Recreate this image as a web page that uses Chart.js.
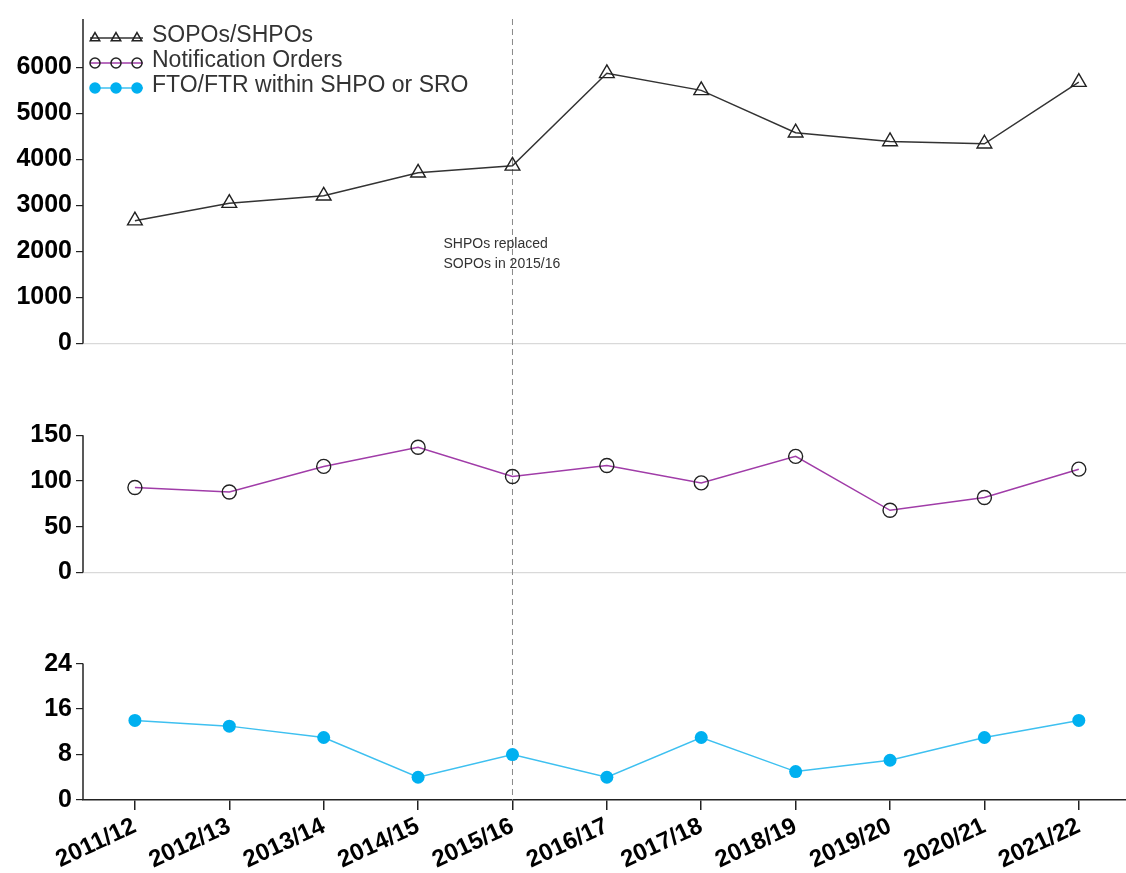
<!DOCTYPE html>
<html>
<head>
<meta charset="utf-8">
<script src="https://cdn.jsdelivr.net/npm/chart.js@4.4.1/dist/chart.umd.min.js"></script>
<style>
	html, body { margin: 0; background: #fff; }
	#wrap { width: 1126px; height: 873px; }
</style>
</head>
<body>
<div id="wrap"><canvas id="myChart"></canvas></div>
<script>
// financial years on the shared x axis
const years = ['2011/12', '2012/13', '2013/14', '2014/15', '2015/16', '2016/17', '2017/18', '2018/19', '2019/20', '2020/21', '2021/22'];

// one series per panel
const sopoShpo = [2670, 3050, 3210, 3710, 3860, 5870, 5500, 4580, 4390, 4340, 5680];
const notificationOrders = [93, 88, 116, 137, 105, 117, 98, 127, 68, 82, 113];
const ftoFtr = [14, 13, 11, 4, 8, 4, 11, 5, 7, 11, 14];

// labelled ticks in each panel
const topPanelTicks = [0, 1000, 2000, 3000, 4000, 5000, 6000];
const midPanelTicks = [0, 50, 100, 150];
const lowPanelTicks = [0, 8, 16, 24];

const changeYear = '2015/16';
const changeNote = ['SHPOs replaced', 'SOPOs in 2015/16'];

const tickFont = { family: '"Liberation Sans", Arial, sans-serif', size: 24, weight: 'bold' };

const toPoints = (values) => values.map((v, i) => ({ x: i, y: v }));

/**
 * builds one of the stacked y axes
 */
function panelAxis(min, max, tickList, weight, stackWeight, zeroLine) {
	return {
		type: 'linear',
		position: 'left',
		stack: 'panels',
		weight: weight,
		stackWeight: stackWeight,
		min: min,
		max: max,
		border: { display: false },
		grid: {
			color: (c) => (zeroLine && c.tick && c.tick.value === 0 ? '#d9d9d9' : 'rgba(0,0,0,0)'),
			tickColor: '#222',
			tickLength: 7,
			lineWidth: 1.2
		},
		ticks: {
			color: '#000',
			font: { ...tickFont, size: 25 },
			padding: 4,
			stepSize: tickList[1] - tickList[0],
			callback: (v) => String(v)
		},
		afterBuildTicks: (s) => {
			s.ticks = tickList.map((v) => ({ value: v }));
		},
		afterFit: (s) => {
			s.width = 83;
		},
		lineTop: tickList[tickList.length - 1]
	};
}

const panelPlugin = {
	id: 'panelDecor',
	beforeDatasetsDraw(chart) {
		const ctx = chart.ctx;
		const area = chart.chartArea;
		const xs = chart.scales.x;
		ctx.save();
		// axis segments per panel
		ctx.strokeStyle = '#222';
		ctx.lineWidth = 1.5;
		[['yTop', true], ['yMid', false], ['yLow', false]].forEach(([id, toTop]) => {
			const s = chart.scales[id];
			const y0 = s.getPixelForValue(0);
			const y1 = toTop ? area.top : s.getPixelForValue(s.options.lineTop);
			ctx.beginPath();
			ctx.moveTo(area.left, y0);
			ctx.lineTo(area.left, y1);
			ctx.stroke();
		});
		// dashed marker line
		const xc = xs.getPixelForValue(years.indexOf(changeYear));
		ctx.strokeStyle = '#888';
		ctx.lineWidth = 1;
		ctx.setLineDash([6, 4]);
		ctx.beginPath();
		ctx.moveTo(xc, area.top);
		ctx.lineTo(xc, area.bottom);
		ctx.stroke();
		ctx.setLineDash([]);
		// note
		const y0 = chart.scales.yTop.getPixelForValue(0);
		ctx.fillStyle = '#333';
		ctx.font = '14px "Liberation Sans", Arial, sans-serif';
		ctx.textBaseline = 'middle';
		ctx.fillText(changeNote[0], xc - 69, y0 - 99);
		ctx.fillText(changeNote[1], xc - 69, y0 - 79);
		ctx.restore();
	},
	afterDraw(chart) {
		const ctx = chart.ctx;
		const area = chart.chartArea;
		ctx.save();
		ctx.font = '23px "Liberation Sans", Arial, sans-serif';
		ctx.textBaseline = 'middle';
		chart.data.datasets.forEach((ds, i) => {
			const y = area.top + 19 + i * 25;
			const x0 = area.left + 7;
			ctx.strokeStyle = ds.borderColor;
			ctx.lineWidth = 1.5;
			ctx.beginPath();
			ctx.moveTo(x0, y);
			ctx.lineTo(x0 + 53, y);
			ctx.stroke();
			[5, 26, 47].forEach((dx) => {
				ctx.fillStyle = ds.pointBackgroundColor;
				ctx.strokeStyle = ds.pointBorderColor;
				Chart.helpers.drawPoint(ctx, { pointStyle: ds.pointStyle, radius: ds.pointStyle === 'triangle' ? 5.5 : 5, borderWidth: 1.2, rotation: 0 }, x0 + dx, y);
			});
			ctx.fillStyle = '#333';
			ctx.fillText(ds.label, x0 + 62, y - 2);
		});
		ctx.restore();
	}
};

new Chart(document.getElementById('myChart'), {
	type: 'line',
	data: {
		datasets: [
			{
				label: 'SOPOs/SHPOs',
				data: toPoints(sopoShpo),
				yAxisID: 'yTop',
				borderColor: '#333',
				borderWidth: 1.5,
				pointStyle: 'triangle',
				pointRadius: 8.5,
				pointBorderWidth: 1.4,
				pointBackgroundColor: 'rgba(0,0,0,0)',
				pointBorderColor: '#222'
			},
			{
				label: 'Notification Orders',
				data: toPoints(notificationOrders),
				yAxisID: 'yMid',
				borderColor: '#a03ca8',
				borderWidth: 1.5,
				pointStyle: 'circle',
				pointRadius: 7,
				pointBorderWidth: 1.4,
				pointBackgroundColor: 'rgba(0,0,0,0)',
				pointBorderColor: '#222'
			},
			{
				label: 'FTO/FTR within SHPO or SRO',
				data: toPoints(ftoFtr),
				yAxisID: 'yLow',
				borderColor: '#3ec0f0',
				borderWidth: 1.5,
				pointStyle: 'circle',
				pointRadius: 6.5,
				pointBorderWidth: 0,
				pointBackgroundColor: '#00b0f0',
				pointBorderColor: '#00b0f0'
			}
		]
	},
	options: {
		responsive: true,
		maintainAspectRatio: false,
		animation: false,
		layout: { autoPadding: false, padding: { top: 14, left: 0, right: 0, bottom: 0 } },
		plugins: {
			legend: { display: false },
			tooltip: { enabled: false }
		},
		scales: {
			x: {
				type: 'linear',
				min: -0.55,
				max: 10.5,
				border: { display: true, color: '#222', width: 1.5 },
				grid: { drawOnChartArea: false, drawTicks: true, tickLength: 10, tickColor: '#222', lineWidth: 1.5 },
				ticks: {
					color: '#000',
					font: tickFont,
					autoSkip: false,
					minRotation: 25,
					maxRotation: 25,
					padding: 2,
					callback: (v) => years[v]
				},
				afterBuildTicks: (s) => {
					s.ticks = years.map((y, i) => ({ value: i }));
				},
				afterFit: (s) => {
					s.height = 73;
					s.paddingRight = 0;
					s.getPadding = () => ({ left: s.paddingLeft || 0, top: 0, right: 0, bottom: 0 });
				}
			},
			yTop: panelAxis(-1000, 7050, topPanelTicks, 3, 373, true),
			yMid: panelAxis(-50, 200, midPanelTicks, 2, 230, true),
			yLow: panelAxis(0, 32, lowPanelTicks, 1, 183, false)
		}
	},
	plugins: [panelPlugin]
});
</script>
</body>
</html>
